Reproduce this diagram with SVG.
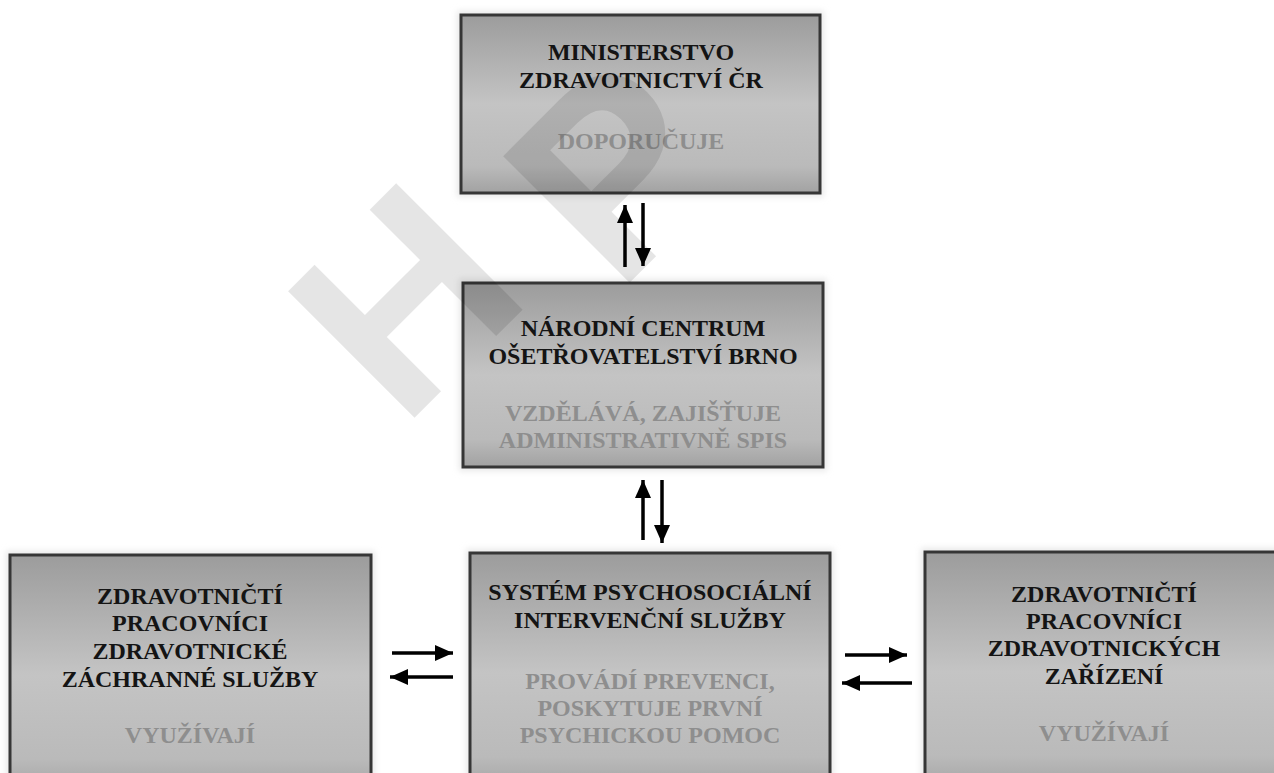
<svg xmlns="http://www.w3.org/2000/svg" width="1274" height="773" viewBox="0 0 1274 773">
<style>
.box{fill:url(#boxGrad);stroke:#363636;stroke-width:3}
.title{font-family:"Liberation Serif","Times New Roman",serif;font-weight:bold;font-size:24px;fill:#141414;text-anchor:middle}
.sub{font-family:"Liberation Serif","Times New Roman",serif;font-weight:bold;font-size:24px;fill:#8e8e8e;text-anchor:middle}
.conn{stroke:#000;stroke-width:3.5;fill:none;marker-end:url(#ah)}
.wm{font-family:"Liberation Sans",Arial,sans-serif;font-weight:bold;font-size:260px;fill:#000;fill-opacity:0.1;text-anchor:middle;dominant-baseline:central}
</style>
<defs>
<linearGradient id="boxGrad" x1="0" y1="0" x2="0" y2="1">
<stop offset="0" stop-color="#9c9c9c"/>
<stop offset="0.5" stop-color="#c4c4c4"/>
<stop offset="0.85" stop-color="#bababa"/>
<stop offset="1" stop-color="#a2a2a2"/>
</linearGradient>
<filter id="sh" x="-10%" y="-10%" width="120%" height="120%">
<feGaussianBlur stdDeviation="3"/>
</filter>
<marker id="ah" viewBox="0 0 18 16" refX="18" refY="8" markerWidth="18" markerHeight="16" markerUnits="userSpaceOnUse" orient="auto">
<path d="M0,0 L18,8 L0,16 z" fill="#000"/>
</marker>
</defs>
<rect width="1274" height="773" fill="#fff"/>

<g id="n1">
<rect x="457" y="11" width="367" height="186" fill="#e8e8e8" filter="url(#sh)"/>
<rect class="box" x="461" y="15" width="359" height="178"/>
<text class="title" x="641" y="60">MINISTERSTVO</text>
<text class="title" x="641" y="88">ZDRAVOTNICTVÍ ČR</text>
<text class="sub" x="641" y="149">DOPORUČUJE</text>
</g>

<g id="n2">
<rect x="459" y="279" width="368" height="192" fill="#e8e8e8" filter="url(#sh)"/>
<rect class="box" x="463" y="283" width="360" height="184"/>
<text class="title" x="643" y="336">NÁRODNÍ CENTRUM</text>
<text class="title" x="643" y="364">OŠETŘOVATELSTVÍ BRNO</text>
<text class="sub" x="643" y="421">VZDĚLÁVÁ, ZAJIŠŤUJE</text>
<text class="sub" x="643" y="448">ADMINISTRATIVNĚ SPIS</text>
</g>

<g id="n3">
<rect x="6" y="551" width="369" height="250" fill="#e8e8e8" filter="url(#sh)"/>
<rect class="box" x="10" y="555" width="361" height="240"/>
<text class="title" x="190" y="604">ZDRAVOTNIČTÍ</text>
<text class="title" x="190" y="631">PRACOVNÍCI</text>
<text class="title" x="190" y="659">ZDRAVOTNICKÉ</text>
<text class="title" x="190" y="687">ZÁCHRANNÉ SLUŽBY</text>
<text class="sub" x="190" y="743">VYUŽÍVAJÍ</text>
</g>

<g id="n4">
<rect x="466" y="549" width="368" height="250" fill="#e8e8e8" filter="url(#sh)"/>
<rect class="box" x="470" y="553" width="360" height="240"/>
<text class="title" x="650" y="600">SYSTÉM PSYCHOSOCIÁLNÍ</text>
<text class="title" x="650" y="628">INTERVENČNÍ SLUŽBY</text>
<text class="sub" x="650" y="689">PROVÁDÍ PREVENCI,</text>
<text class="sub" x="650" y="716">POSKYTUJE PRVNÍ</text>
<text class="sub" x="650" y="743">PSYCHICKOU POMOC</text>
</g>

<g id="n5">
<rect x="921" y="548" width="368" height="250" fill="#e8e8e8" filter="url(#sh)"/>
<rect class="box" x="925" y="552" width="360" height="240"/>
<text class="title" x="1104" y="602">ZDRAVOTNIČTÍ</text>
<text class="title" x="1104" y="629">PRACOVNÍCI</text>
<text class="title" x="1104" y="656">ZDRAVOTNICKÝCH</text>
<text class="title" x="1104" y="684">ZAŘÍZENÍ</text>
<text class="sub" x="1104" y="741">VYUŽÍVAJÍ</text>
</g>

<g id="connectors">
<line class="conn" x1="625" y1="267" x2="625" y2="205"/>
<line class="conn" x1="643" y1="203" x2="643" y2="266"/>
<line class="conn" x1="643" y1="540" x2="643" y2="480"/>
<line class="conn" x1="662" y1="480" x2="662" y2="543"/>
<line class="conn" x1="392" y1="653" x2="453" y2="653"/>
<line class="conn" x1="453" y1="677" x2="390" y2="677"/>
<line class="conn" x1="845" y1="655" x2="907" y2="655"/>
<line class="conn" x1="912" y1="683" x2="842" y2="683"/>
</g>

<g id="watermark">
<text class="wm" transform="translate(405,300) rotate(-45)">H</text>
<text class="wm" transform="translate(615,170) rotate(-45)">P</text>
</g>
</svg>
